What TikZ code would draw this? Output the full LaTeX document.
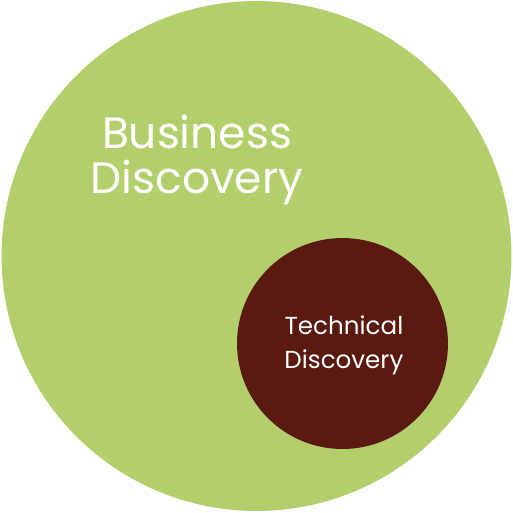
\documentclass[tikz,border=0pt]{standalone}
\usepackage{fontspec}
\setmainfont{Poppins}
\usepackage{xcolor}
\definecolor{bizgreen}{HTML}{B3CF6B}
\definecolor{techred}{HTML}{5A1A10}

\begin{document}
\begin{tikzpicture}[
  x=0.02cm,y=-0.02cm,
  disc/.style={circle, inner sep=0pt, draw=none},
  lbl/.style={text=white, align=center, inner sep=0pt}]
\useasboundingbox (0,0) rectangle (513,512);
\node[disc, fill=bizgreen, minimum size=10.2cm] (biz) at (256.5,256) {};
\node[disc, fill=techred, minimum size=4.22cm] (tech) at (342.5,343.5) {};
\node[lbl, font=\fontsize{25}{26}\selectfont] (bizlbl) at (197,160)
 {Business\\Discovery};
\node[lbl, font=\fontsize{14}{19.5}\selectfont] (techlbl) at (344,345)
 {Technical\\Discovery};
\end{tikzpicture}
\end{document}
